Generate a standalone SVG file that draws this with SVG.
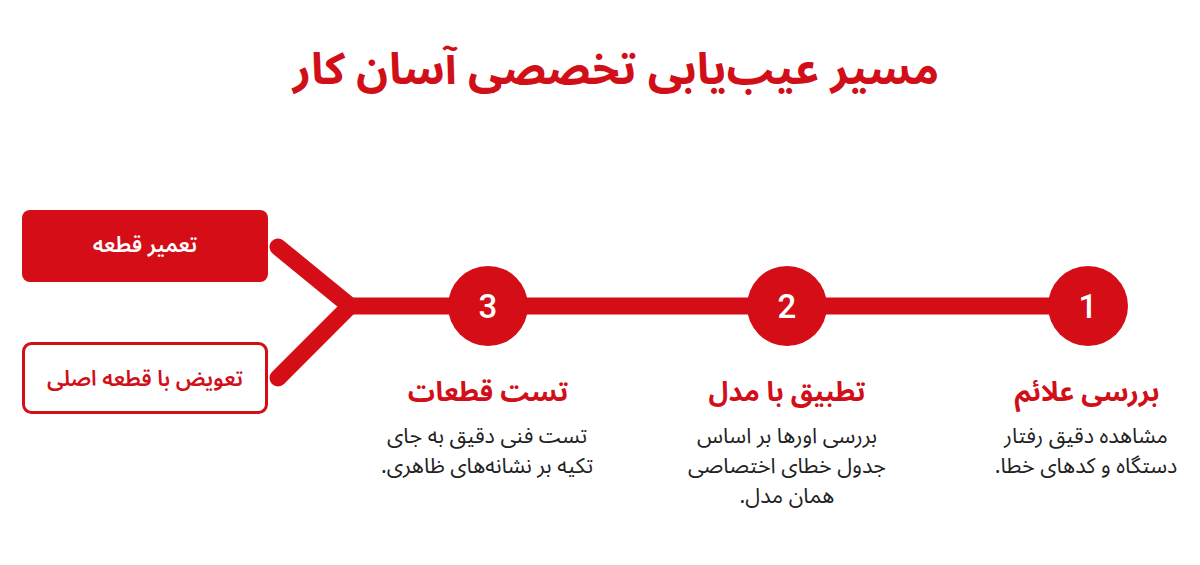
<svg xmlns="http://www.w3.org/2000/svg" width="1200" height="565" viewBox="0 0 1200 565">
<style>
.fa{font-family:"Noto Sans Arabic","Vazirmatn","DejaVu Sans",sans-serif;direction:rtl;unicode-bidi:embed;text-anchor:middle}
.title{font-size:44px;font-weight:bold;fill:#d10f19}
.h{font-size:27px;font-weight:bold;fill:#d10f19}
.d{font-size:21.5px;fill:#222}
.box{font-size:21.5px;font-weight:600}
.num{font-family:Roboto,"Liberation Sans",sans-serif;font-size:33px;font-weight:500;fill:#fff;text-anchor:middle}
.circ{fill:#d40d17}
.line{stroke:#d40d17;stroke-width:17;fill:none;stroke-linecap:round}
</style>
<rect width="1200" height="565" fill="#fff"/>
<text class="fa title" x="616" y="84">مسیر عیب‌یابی تخصصی آسان کار</text>
<g id="connectors">
<line class="line" x1="350" y1="306" x2="1088" y2="306" stroke-linecap="butt"/>
<polyline class="line" points="278,247 350,306 278,378" stroke-linejoin="miter" stroke-width="15"/>
</g>
<g id="repair">
<rect x="22" y="210" width="246" height="72" rx="8" fill="#d40d17"/>
<text class="fa box" x="145" y="252" fill="#fff">تعمیر قطعه</text>
</g>
<g id="replace">
<rect x="23.5" y="343.5" width="243" height="69" rx="8" fill="#fff" stroke="#d40d17" stroke-width="3"/>
<text class="fa box" x="145" y="386" fill="#d10f19">تعویض با قطعه اصلی</text>
</g>
<g id="step1">
<circle class="circ" cx="1088" cy="306" r="40"/>
<text class="num" x="1088" y="318">1</text>
<text class="fa h" x="1087" y="401">بررسی علائم</text>
<text class="fa d" x="1086" y="443">مشاهده دقیق رفتار</text>
<text class="fa d" x="1086" y="473">دستگاه و کدهای خطا.</text>
</g>
<g id="step2">
<circle class="circ" cx="787" cy="306" r="40"/>
<text class="num" x="787" y="318">2</text>
<text class="fa h" x="787" y="401">تطبیق با مدل</text>
<text class="fa d" x="787" y="443">بررسی اورها بر اساس</text>
<text class="fa d" x="787" y="473">جدول خطای اختصاصی</text>
<text class="fa d" x="787" y="503">همان مدل.</text>
</g>
<g id="step3">
<circle class="circ" cx="488" cy="306" r="40"/>
<text class="num" x="488" y="318">3</text>
<text class="fa h" x="488" y="401">تست قطعات</text>
<text class="fa d" x="487" y="443">تست فنی دقیق به جای</text>
<text class="fa d" x="487" y="473">تکیه بر نشانه‌های ظاهری.</text>
</g>
</svg>
